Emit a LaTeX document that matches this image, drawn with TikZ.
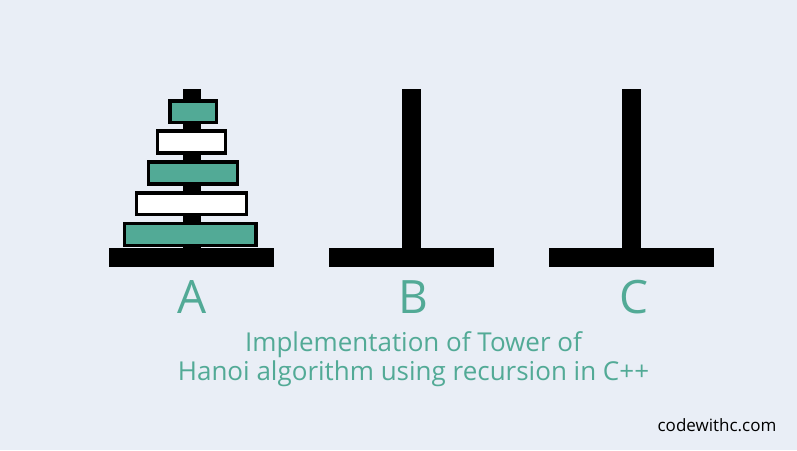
\documentclass[tikz,border=0pt]{standalone}
\usepackage{fontspec}
\setmainfont{Open Sans}
\definecolor{pagebg}{HTML}{E9EEF6}
\definecolor{hanoigreen}{HTML}{52AA96}
\tikzset{
  pole/.style={fill=black,draw=none},
  greendisk/.style={fill=hanoigreen,draw=black,line width=3.2pt},
  whitedisk/.style={fill=white,draw=black,line width=3.2pt},
  pegname/.style={text=hanoigreen,font=\fontsize{46}{46}\selectfont,inner sep=0pt,anchor=base},
  caption/.style={text=hanoigreen,font=\fontsize{26}{29}\selectfont,inner sep=0pt,align=center}
}
\begin{document}
\begin{tikzpicture}[x=1pt,y=-1pt]
            \useasboundingbox [fill=pagebg] (0,0) rectangle (797,450);
            \draw [pole] (183,89) rectangle (201,250);
            \draw [pole] (109,248) rectangle (274,267);
            \pgfmathsetmacro{\h}{220};
            \draw [pole] (\h+182,89) rectangle (\h+201,250);
            \draw [pole] (\h+109,248) rectangle (\h+274,267);
            \pgfmathsetmacro{\h}{440};
            \draw [pole] (\h+182,89) rectangle (\h+201,250);
            \draw [pole] (\h+109,248) rectangle (\h+274,267);
            \draw [greendisk] (170,101) rectangle (216.5,122.7);
            \draw [whitedisk] (157.6,131) rectangle (225.4,153);
            \draw [greendisk] (148.6,162) rectangle (237.7,184);
            \draw [whitedisk] (136.3,193) rectangle (246.7,214.7);
            \draw [greendisk] (124.3,223.6) rectangle (256,245.4);
            \node [pegname] (nameA) at (192.5,313) {A};
            \node [pegname] (nameB) at (413.5,313) {B};
            \node [pegname] (nameC) at (633.5,313) {C};
            \node [caption] (title) at (413.5,359.5) {Implementation of Tower of\\Hanoi algorithm using recursion in C++};
            \node [inner sep=0pt,font=\fontsize{17}{20}\selectfont] (site) at (717,425) {codewithc.com};
\end{tikzpicture}
\end{document}
